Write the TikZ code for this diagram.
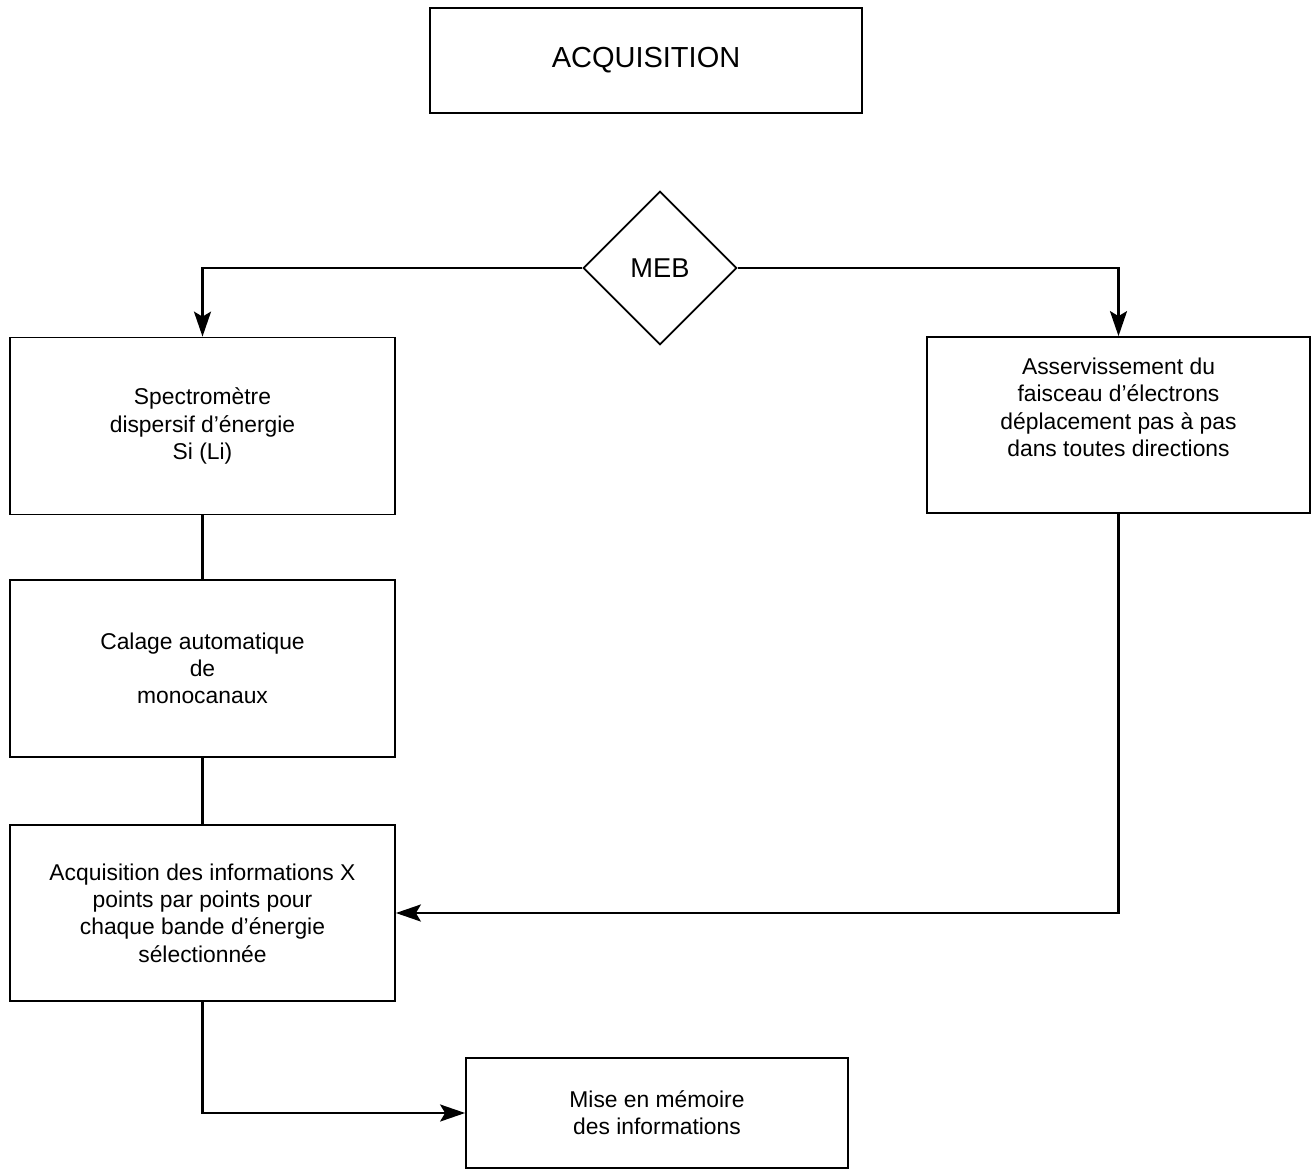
\documentclass[tikz,border=0pt]{standalone}
\usepackage{fontspec}
\setmainfont{Liberation Sans}
\usetikzlibrary{arrows.meta,positioning,shapes.geometric}

\begin{document}
\begin{tikzpicture}[
  stagebox/.style={
    draw,
    line width=1pt,
    minimum width=7.7cm,
    minimum height=3.54cm,
    align=center,
    font=\fontsize{13}{15.5}\selectfont
  },
  link/.style={line width=1.4pt},
  arrow/.style={-{Stealth[length=5mm,width=3.4mm,inset=1mm]},line width=1.4pt}
]
  \useasboundingbox (0,0) rectangle (26.26,-23.46);
  \node[stagebox,minimum width=8.64cm,minimum height=2.1cm,
    font=\fontsize{16.5}{19}\selectfont] (title) at (12.92,-1.21)
    {ACQUISITION};
  \node[draw,line width=1pt,diamond,shape aspect=1,minimum size=3.07cm,
    inner sep=0pt,font=\fontsize{15.5}{18}\selectfont] (meb) at (13.2,-5.36)
    {MEB};
  \node[stagebox] (spectro) at (4.05,-8.52)
    {Spectromètre\\dispersif d’énergie\\Si (Li)};
  \node[stagebox,minimum width=7.66cm,minimum height=3.52cm] (servo) at (22.37,-8.5)
    {\raisebox{0.3cm}[\height][\depth]{\begin{tabular}{@{}c@{}}Asservissement du\\faisceau d’électrons\\déplacement pas à pas\\dans toutes directions\end{tabular}}};
  \node[stagebox] (calage) at (4.05,-13.37)
    {Calage automatique\\de\\monocanaux};
  \node[stagebox,minimum height=3.52cm] (acqx) at (4.05,-18.26)
    {Acquisition des informations X\\points par points pour\\chaque bande d’énergie\\sélectionnée};
  \node[stagebox,minimum width=7.64cm,minimum height=2.2cm] (memoire) at (13.14,-22.26)
    {Mise en mémoire\\des informations};
  % liaisons
  \draw[arrow] (meb.west) -| (spectro.north);
  \draw[arrow] (meb.east) -| (servo.north);
  \draw[link] (spectro) -- (calage);
  \draw[link] (calage) -- (acqx);
  \draw[arrow] (servo.south) |- (acqx.east);
  \draw[arrow] (acqx.south) |- (memoire.west);
\end{tikzpicture}
\end{document}
